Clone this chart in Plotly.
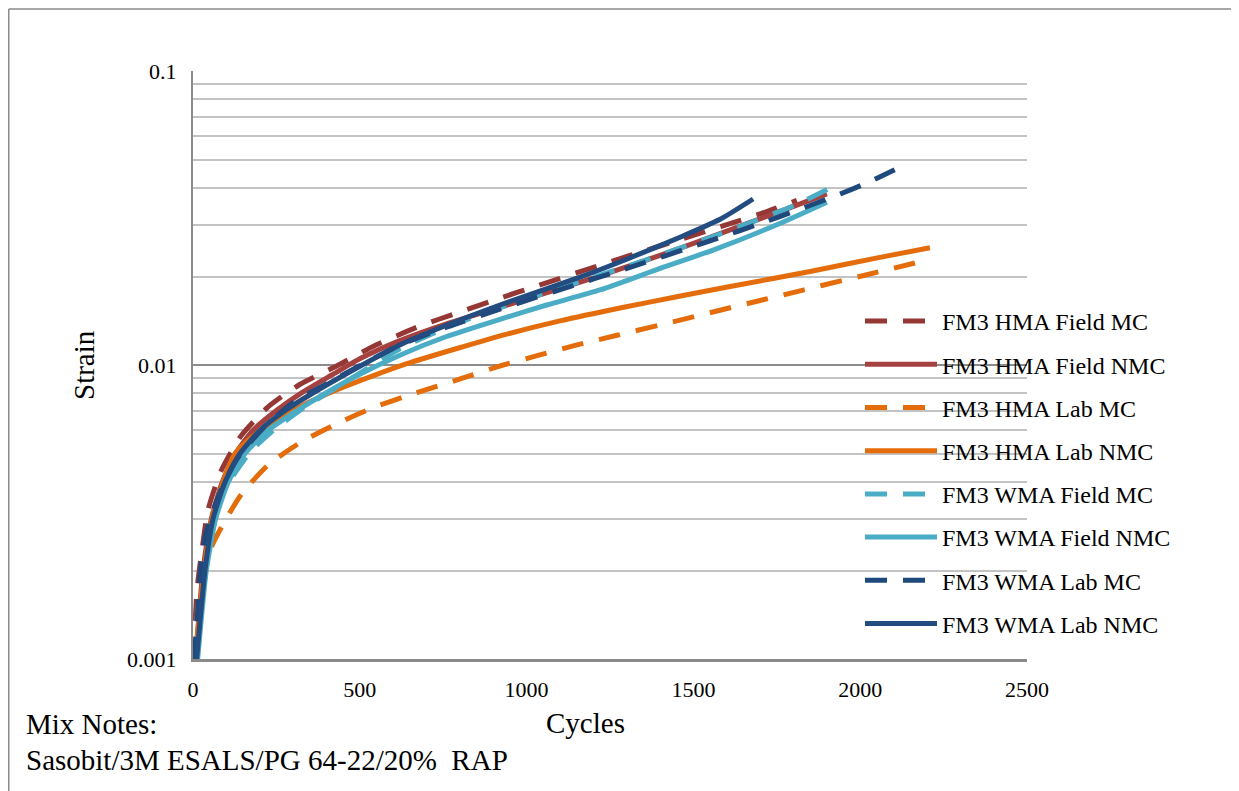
import plotly.graph_objects as go

# ---------------- data ----------------
series_names = [
    "FM3 HMA Field MC", "FM3 HMA Field NMC", "FM3 HMA Lab MC", "FM3 HMA Lab NMC",
    "FM3 WMA Field MC", "FM3 WMA Field NMC", "FM3 WMA Lab MC", "FM3 WMA Lab NMC",
]

hma_field_mc_cycles = [2, 12, 27, 45, 84, 144, 225, 321, 429, 534, 668, 803, 917, 1031, 1262, 1352, 1469, 1586, 1700, 1810]
hma_field_mc_strain = [0.001, 0.00172, 0.00235, 0.00321, 0.00436, 0.00574, 0.0072, 0.0086, 0.0099, 0.01148, 0.0134, 0.0152, 0.01683, 0.01858, 0.02265, 0.02443, 0.0269, 0.02965, 0.03266, 0.0363]

hma_field_nmc_cycles = [8, 30, 55, 88, 128, 180, 250, 330, 420, 500, 620, 760, 920, 1220, 1400, 1580, 1750, 1900]
hma_field_nmc_strain = [0.001, 0.002, 0.003, 0.004, 0.005, 0.006, 0.007, 0.0081, 0.0093, 0.0105, 0.0121, 0.0138, 0.0157, 0.0201, 0.0236, 0.0280, 0.0330, 0.0382]

hma_lab_mc_cycles = [5, 12, 30, 55, 84, 144, 225, 324, 429, 537, 671, 803, 917, 1037, 1151, 1271, 1475, 1589, 1709, 1826, 1945, 2023, 2164]
hma_lab_mc_strain = [0.001, 0.0013, 0.0019, 0.0024, 0.00279, 0.00362, 0.00457, 0.00547, 0.0063, 0.00714, 0.00806, 0.00898, 0.0099, 0.0108, 0.0117, 0.01262, 0.01435, 0.01545, 0.01667, 0.01795, 0.01936, 0.02032, 0.02223]

hma_lab_nmc_cycles = [6, 33, 57, 90, 126, 186, 267, 345, 441, 541, 641, 791, 941, 1100, 1280, 1450, 1610, 1850, 2059, 2209]
hma_lab_nmc_strain = [0.001, 0.002, 0.003, 0.004, 0.005, 0.0058, 0.00668, 0.00745, 0.00832, 0.0092, 0.0101, 0.01138, 0.01274, 0.01413, 0.01563, 0.01706, 0.01849, 0.0208, 0.02323, 0.02506]

wma_field_mc_cycles = [5, 15, 33, 57, 99, 174, 252, 345, 450, 620, 760, 920, 1220, 1355, 1583, 1805, 1939]
wma_field_mc_strain = [0.001, 0.0015, 0.00222, 0.00297, 0.00385, 0.0051, 0.00615, 0.00731, 0.00865, 0.01135, 0.0134, 0.01567, 0.0202, 0.0227, 0.0280, 0.0350, 0.0416]

wma_field_nmc_cycles = [14, 40, 68, 106, 156, 225, 312, 396, 500, 620, 760, 920, 1060, 1220, 1400, 1559, 1750, 1900]
wma_field_nmc_strain = [0.001, 0.002, 0.003, 0.004, 0.005, 0.006, 0.007, 0.008, 0.0093, 0.0108, 0.0125, 0.0143, 0.0160, 0.0180, 0.0213, 0.0246, 0.0300, 0.0358]

wma_lab_mc_cycles = [3, 12, 21, 39, 78, 129, 210, 303, 405, 520, 620, 760, 920, 1160, 1260, 1355, 1470, 1585, 1695, 1810, 1925, 2020, 2128]
wma_lab_mc_strain = [0.001, 0.00132, 0.00193, 0.00268, 0.00362, 0.00475, 0.0061, 0.00748, 0.00868, 0.01023, 0.0117, 0.01345, 0.01549, 0.01897, 0.0206, 0.02234, 0.02466, 0.02729, 0.03013, 0.03357, 0.03758, 0.04159, 0.0476]

wma_lab_nmc_cycles = [11, 36, 60, 96, 141, 201, 276, 357, 507, 620, 760, 920, 1160, 1300, 1460, 1580, 1679]
wma_lab_nmc_strain = [0.001, 0.002, 0.003, 0.004, 0.005, 0.006, 0.007, 0.008, 0.010, 0.0117, 0.01365, 0.0160, 0.0199, 0.0229, 0.0272, 0.0313, 0.0367]

x_tick_vals = [0, 500, 1000, 1500, 2000, 2500]
y_tick_vals = [0.001, 0.01, 0.1]
y_tick_text = ["0.001", "0.01", "0.1"]
y_minor_vals = [d * 10.0 ** e for e in (-3, -2) for d in range(2, 10)]

# ---------------- styles ----------------
colors = ["#953735", "#A5413E", "#E46C0A", "#E46C0A",
          "#4BACC6", "#4BACC6", "#1F497D", "#234C80"]
dashes = ["22px,16px", "solid", "22px,16px", "solid",
          "22px,16px", "solid", "22px,16px", "solid"]

all_x = [hma_field_mc_cycles, hma_field_nmc_cycles, hma_lab_mc_cycles, hma_lab_nmc_cycles,
         wma_field_mc_cycles, wma_field_nmc_cycles, wma_lab_mc_cycles, wma_lab_nmc_cycles]
all_y = [hma_field_mc_strain, hma_field_nmc_strain, hma_lab_mc_strain, hma_lab_nmc_strain,
         wma_field_mc_strain, wma_field_nmc_strain, wma_lab_mc_strain, wma_lab_nmc_strain]

FONT = "Liberation Serif, Times New Roman, serif"

fig = go.Figure()
for i, name in enumerate(series_names):
    fig.add_trace(go.Scatter(
        x=all_x[i], y=all_y[i], name=name, mode="lines",
        line=dict(color=colors[i], width=5, dash=dashes[i], shape="spline", smoothing=0.6),
        legendgroup=f"g{i}",
    ))

# page has an 8px body margin: work in screen pixels and shift
OFF = 8
W, H = 1239 - OFF, 791 - OFF
L, R, T, B = 193 - OFF, 1027 - OFF, 71 - OFF, 659 - OFF


def px(x):
    return (x - OFF - L) / (R - L)


def py(y):
    return (B - (y - OFF)) / (B - T)


fig.update_layout(
    width=W, height=H,
    margin=dict(l=L, r=W - R, t=T, b=H - B, pad=0),
    paper_bgcolor="white", plot_bgcolor="white",
    font=dict(family=FONT, color="black", size=22),
    showlegend=True,
    legend=dict(
        x=px(860), y=py(299), xanchor="left", yanchor="top",
        bgcolor="rgba(0,0,0,0)", borderwidth=0,
        font=dict(family=FONT, size=24, color="black"),
        itemwidth=72, tracegroupgap=9,
    ),
    xaxis=dict(
        range=[0, 2500], tickvals=x_tick_vals, showgrid=False, zeroline=False,
        showline=True, linecolor="#8a8a8a", linewidth=3,
        ticks="", ticklabelstandoff=9,
        tickfont=dict(family=FONT, size=22),
    ),
    yaxis=dict(
        type="log", range=[-3, -1], tickvals=y_tick_vals, ticktext=y_tick_text,
        showgrid=True, gridcolor="#8c8c8c", gridwidth=2, zeroline=False,
        showline=True, linecolor="#8a8a8a", linewidth=2,
        ticks="", ticklabelstandoff=10,
        tickfont=dict(family=FONT, size=22),
        minor=dict(tickvals=y_minor_vals, showgrid=True, gridcolor="#c3c3c3", gridwidth=1.5, ticks=""),
    ),
    shapes=[
        # white panel behind the legend (covers grid lines)
        dict(type="rect", xref="paper", yref="paper", x0=px(809), x1=1.0, y0=py(650), y1=py(295),
             fillcolor="white", line=dict(width=0), layer="between"),
        # outer chart border (top + left)
        dict(type="line", xref="paper", yref="paper", x0=px(8.75), x1=px(1260), y0=py(9), y1=py(9),
             line=dict(color="#8a8a8a", width=1.5)),
        dict(type="line", xref="paper", yref="paper", x0=px(8.75), x1=px(8.75), y0=py(9), y1=py(820),
             line=dict(color="#8a8a8a", width=1.5)),
    ],
    annotations=[
        dict(text="Strain", xref="paper", yref="paper", x=px(84), y=py(365), showarrow=False,
             textangle=-90, font=dict(family=FONT, size=29), xanchor="center", yanchor="middle"),
        dict(text="Cycles", xref="paper", yref="paper", x=px(585), y=py(723), showarrow=False,
             font=dict(family=FONT, size=29), xanchor="center", yanchor="middle"),
        dict(text="Mix Notes:", xref="paper", yref="paper", x=px(24), y=py(724), showarrow=False,
             font=dict(family=FONT, size=29), xanchor="left", yanchor="middle"),
        dict(text="Sasobit/3M ESALS/PG 64-22/20%  RAP", xref="paper", yref="paper", x=px(24), y=py(760),
             showarrow=False, font=dict(family=FONT, size=29), xanchor="left", yanchor="middle"),
    ],
)

fig.write_html("out.html")
